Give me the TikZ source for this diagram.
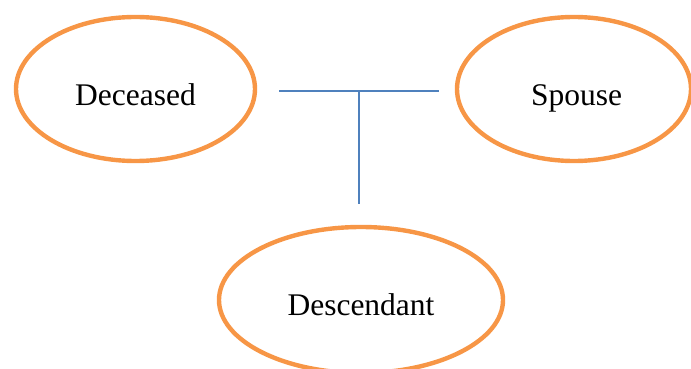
\documentclass[tikz,border=0pt]{standalone}
\usepackage{fontspec}
\setmainfont{Liberation Serif}
\usetikzlibrary{shapes.geometric}
\definecolor{accorange}{HTML}{F79646}
\definecolor{accblue}{HTML}{4F81BD}
\tikzset{
  person/.style={ellipse, draw=accorange, line width=4.4pt, inner sep=0pt, outer sep=0pt,
    font=\fontsize{31.5}{38}\selectfont, text height=34pt, text depth=0pt},
  link/.style={draw=accblue, line width=1.6pt}
}
\begin{document}
\begin{tikzpicture}[x=1pt,y=-1pt]
\useasboundingbox (0,0) rectangle (691,369);
\node[person, minimum width=239pt, minimum height=144pt] (dec) at (135.5,89) {Deceased};
\node[person, minimum width=234pt, minimum height=144pt] (sp) at (574,89) {\hspace{5pt}Spouse};
\node[person, minimum width=284pt, minimum height=146pt, text height=30pt] (des) at (361,300) {Descendant};
\coordinate (hl) at (279,91);
\coordinate (hr) at (439,91);
\coordinate (j) at (359,91);
\coordinate (vb) at (359,204);
\draw[link] (hl) -- (hr);
\draw[link] (j) -- (vb);
\end{tikzpicture}
\end{document}
